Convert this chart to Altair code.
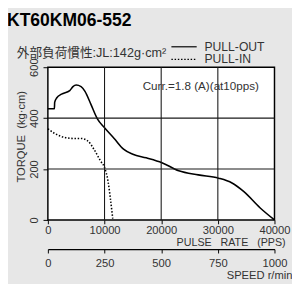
import altair as alt
import pandas as pd

# ---- data ----
pullout_pps = [0, 1150, 1200, 1550, 2410, 3860, 4430, 5000, 5860, 6550, 7600, 8740,
               10000, 11700, 13350, 15000, 17360, 20120, 23100, 26550, 30120, 32500,
               34600, 37480, 40000]
pullout_torque = [437, 437, 462, 479, 494, 508, 524, 530, 524, 505, 454, 397,
                  362, 320, 278, 258, 244, 225, 193, 177, 164, 145,
                  111, 47, 0]
pullin_pps = [0, 1270, 3000, 4720, 5860, 7020, 8170, 9310, 10000, 10640, 11030, 11450]
pullin_torque = [358, 339, 324, 320, 320, 311, 276, 231, 206, 149, 85, 5]

pps_ticks = [0, 10000, 20000, 30000, 40000]
torque_ticks = [0, 200, 400, 600]
speed_ticks = [0, 250, 500, 750, 1000]
PPS_PER_RPM = 40  # 40000 pps <-> 1000 r/min

title_text = "KT60KM06-552"
inertia_text = "外部負荷慣性:JL:142g·cm²"
pullout_label = "PULL-OUT"
pullin_label = "PULL-IN"
current_text = "Curr.=1.8 (A)(at10pps)"
nb = "\u00a0"
x_title = "PULSE" + nb * 3 + "RATE" + nb * 3 + "(PPS)"
y_title = "TORQUE" + nb * 2 + "(kg·cm)"
speed_title = "SPEED r/min"

FONT = "Liberation Sans, Arial, Noto Sans CJK JP"
W, H = 233, 157

df_out = pd.DataFrame({"pps": pullout_pps, "torque": pullout_torque})
df_in = pd.DataFrame({"pps": pullin_pps, "torque": pullin_torque})
df_speed = pd.DataFrame({"speed": speed_ticks})
df_xgrid = pd.DataFrame({"pps": pps_ticks[1:-1]})
df_ygrid = pd.DataFrame({"torque": torque_ticks[1:-1]})

xscale = alt.Scale(domain=[0, 40000], nice=False, zero=False)
yscale = alt.Scale(domain=[0, 600], nice=False)

xaxis = alt.Axis(orient="bottom", values=pps_ticks, format="d", title=x_title,
                 grid=False, tickSize=4, tickColor="#000000", labelPadding=1,
                 labelFontSize=11.5, labelColor="#333333", labelFont=FONT,
                 domain=False, labelFlush=False,
                 titleFont=FONT, titleFontSize=11, titleFontWeight="normal",
                 titleColor="#333333", titleX=244, titleY=26, titleAlign="right",
                 titleBaseline="alphabetic")
yaxis = alt.Axis(values=torque_ticks, format="d", title=y_title, grid=False,
                 tickSize=5, tickColor="#000000", labelPadding=4,
                 labelAngle=270, labelAlign="center", labelBaseline="bottom",
                 labelFontSize=11.5, labelColor="#333333", labelFont=FONT,
                 domain=False, labelFlush=False,
                 titleFont=FONT, titleFontSize=11.5, titleFontWeight="normal",
                 titleColor="#333333", titleAngle=270, titleX=-27, titleY=71,
                 titleAlign="center", titleBaseline="middle")
speed_axis = alt.Axis(orient="bottom", offset=30,
                      values=[s * PPS_PER_RPM for s in speed_ticks],
                      labelExpr=f"format(datum.value / {PPS_PER_RPM}, 'd')",
                      title=speed_title, grid=False, tickSize=4,
                      tickColor="#000000", domainColor="#000000",
                      domainWidth=1.2, labelPadding=5, labelFontSize=11.5,
                      labelColor="#333333", labelFont=FONT, labelFlush=False,
                      titleFont=FONT, titleFontSize=11.5,
                      titleFontWeight="normal", titleColor="#333333",
                      titleX=251, titleY=30, titleAlign="right",
                      titleBaseline="alphabetic")

out_line = alt.Chart(df_out).mark_line(color="black", strokeWidth=1.6,
                                       interpolate="monotone").encode(
    x=alt.X("pps:Q", scale=xscale, axis=xaxis),
    y=alt.Y("torque:Q", scale=yscale, axis=yaxis),
)
in_line = alt.Chart(df_in).mark_line(color="black", strokeWidth=1.6,
                                     strokeDash=[1.5, 1.8],
                                     interpolate="monotone").encode(
    x=alt.X("pps:Q", scale=xscale, axis=None),
    y=alt.Y("torque:Q", scale=yscale),
)
xgrid = alt.Chart(df_xgrid).mark_rule(color="#1a1a1a", strokeWidth=1.1).encode(
    x=alt.X("pps:Q", scale=xscale, axis=None))
ygrid = alt.Chart(df_ygrid).mark_rule(color="#1a1a1a", strokeWidth=1.1).encode(
    y=alt.Y("torque:Q", scale=yscale))
speed = alt.Chart(df_speed).transform_calculate(
    pps=f"datum.speed * {PPS_PER_RPM}"
).mark_point(opacity=0).encode(
    x=alt.X("pps:Q", scale=xscale, axis=speed_axis),
    y=alt.value(10),
)

def txt(s, x, y, size, weight="normal", color="#333333", align="left"):
    return alt.Chart(pd.DataFrame({"t": [s]})).mark_text(
        font=FONT, fontSize=size, fontWeight=weight, color=color, align=align,
        baseline="alphabetic",
    ).encode(text="t:N", x=alt.value(x), y=alt.value(y))

title = txt(title_text, -42, -42, 18, weight="bold", color="#000000")
inertia = txt(inertia_text, -32, -10.5, 13)
lbl_out = txt(pullout_label, 161, -17, 12.5)
lbl_in = txt(pullin_label, 161, -4, 12.5)
curr = txt(current_text, 97.5, 23, 12)

leg_solid = alt.Chart(pd.DataFrame({"t": [pullout_label]})).mark_rule(
    color="black", strokeWidth=1.2).encode(
    x=alt.value(127), x2=alt.value(153), y=alt.value(-21))
leg_dot = alt.Chart(pd.DataFrame({"t": [pullin_label]})).mark_rule(
    color="black", strokeWidth=1.4, strokeDash=[1.5, 1.8]).encode(
    x=alt.value(127), x2=alt.value(153), y=alt.value(-8))

chart = alt.layer(out_line, in_line, xgrid, ygrid, speed, title, inertia,
                  lbl_out, lbl_in, curr, leg_solid, leg_dot).resolve_axis(
    x="independent").properties(
    width=W, height=H,
    autosize=alt.AutoSizeParams(type="none"),
    padding={"left": 41, "top": 57, "right": 18, "bottom": 62},
    background="#e7e7e7",
).configure_view(stroke="black", strokeWidth=1.5, fill="white")

chart.save("out.html", embed_options={"renderer": "svg", "actions": False})
